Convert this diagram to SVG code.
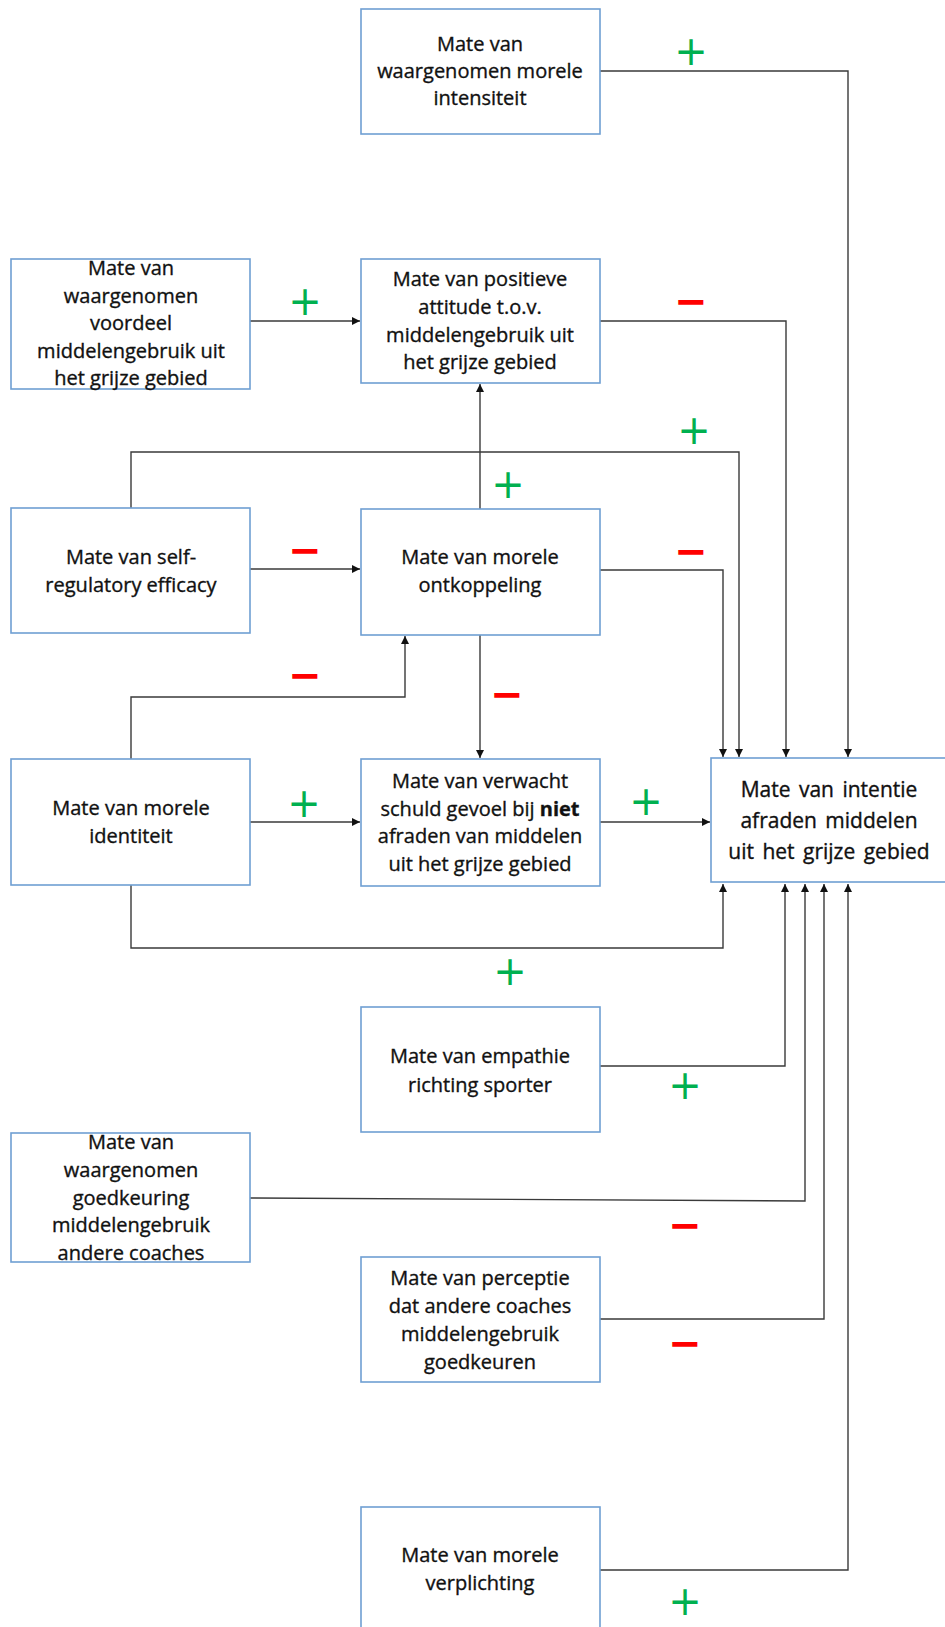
<svg xmlns="http://www.w3.org/2000/svg" width="945" height="1627" viewBox="0 0 945 1627">
<style>
.box{fill:#fff;stroke:#6f9fd3;stroke-width:1.6}
.t{font-family:"Open Sans","Liberation Sans",sans-serif;font-size:20px;fill:#111;stroke:#111;stroke-width:0.35;text-anchor:middle}
.tt{font-family:"Open Sans","Liberation Sans",sans-serif;font-size:21px;fill:#111;stroke:#111;stroke-width:0.35;text-anchor:middle;word-spacing:3px}
.c{fill:none;stroke:#3a3a3a;stroke-width:1.4}
.p{font-family:"DejaVu Sans",sans-serif;font-size:40px;fill:#00b050;text-anchor:middle}
.m{font-family:"DejaVu Sans",sans-serif;font-size:40px;fill:#ff0000;text-anchor:middle;font-weight:bold}
</style>
<defs>
<marker id="ah" viewBox="0 0 10 10" refX="10" refY="5" markerWidth="10" markerHeight="8" markerUnits="userSpaceOnUse" orient="auto">
<path d="M0,0 L10,5 L0,10 z" fill="#111"/>
</marker>
</defs>
<rect width="945" height="1627" fill="#fff"/>
<g id="connectors">
<path class="c" d="M600,71 H848 V757" marker-end="url(#ah)"/>
<path class="c" d="M250,321 H360" marker-end="url(#ah)"/>
<path class="c" d="M600,321 H786 V757" marker-end="url(#ah)"/>
<path class="c" d="M480,509 V384" marker-end="url(#ah)"/>
<path class="c" d="M131,508 V452 H739 V757" marker-end="url(#ah)"/>
<path class="c" d="M250,569 H360" marker-end="url(#ah)"/>
<path class="c" d="M600,570 H723 V757" marker-end="url(#ah)"/>
<path class="c" d="M480,635 V758" marker-end="url(#ah)"/>
<path class="c" d="M131,759 V697 H405 V636" marker-end="url(#ah)"/>
<path class="c" d="M250,822 H360" marker-end="url(#ah)"/>
<path class="c" d="M600,822 H710" marker-end="url(#ah)"/>
<path class="c" d="M131,885 V948 H723 V884" marker-end="url(#ah)"/>
<path class="c" d="M600,1066 H785 V884" marker-end="url(#ah)"/>
<path class="c" d="M250,1198 L805,1201 V884" marker-end="url(#ah)"/>
<path class="c" d="M600,1319 H824 V884" marker-end="url(#ah)"/>
<path class="c" d="M600,1570 H848 V884" marker-end="url(#ah)"/>
</g>
<g id="signs">
<text class="p" x="691" y="65">+</text>
<text class="p" x="305" y="315">+</text>
<text class="m" x="691" y="315">−</text>
<text class="p" x="694" y="444">+</text>
<text class="p" x="508" y="498">+</text>
<text class="m" x="305" y="564">−</text>
<text class="m" x="691" y="565">−</text>
<text class="m" x="305" y="689">−</text>
<text class="m" x="507" y="708">−</text>
<text class="p" x="304" y="817">+</text>
<text class="p" x="646" y="815">+</text>
<text class="p" x="510" y="985">+</text>
<text class="p" x="685" y="1099">+</text>
<text class="m" x="685" y="1239">−</text>
<text class="m" x="685" y="1357">−</text>
<text class="p" x="685" y="1615">+</text>
</g>
<g id="n-morele-intensiteit">
<rect class="box" x="361" y="9" width="239" height="125"/>
<text class="t" x="480" y="51">Mate van</text>
<text class="t" x="480" y="78">waargenomen morele</text>
<text class="t" x="480" y="105">intensiteit</text>
</g>
<g id="n-voordeel">
<rect class="box" x="11" y="259" width="239" height="130"/>
<text class="t" x="131" y="275">Mate van</text>
<text class="t" x="131" y="303">waargenomen</text>
<text class="t" x="131" y="330">voordeel</text>
<text class="t" x="131" y="358">middelengebruik uit</text>
<text class="t" x="131" y="385">het grijze gebied</text>
</g>
<g id="n-attitude">
<rect class="box" x="361" y="259" width="239" height="124"/>
<text class="t" x="480" y="286">Mate van positieve</text>
<text class="t" x="480" y="314">attitude t.o.v.</text>
<text class="t" x="480" y="342">middelengebruik uit</text>
<text class="t" x="480" y="369">het grijze gebied</text>
</g>
<g id="n-self-regulatory">
<rect class="box" x="11" y="508" width="239" height="125"/>
<text class="t" x="131" y="564">Mate van self-</text>
<text class="t" x="131" y="592">regulatory efficacy</text>
</g>
<g id="n-ontkoppeling">
<rect class="box" x="361" y="509" width="239" height="126"/>
<text class="t" x="480" y="564">Mate van morele</text>
<text class="t" x="480" y="592">ontkoppeling</text>
</g>
<g id="n-identiteit">
<rect class="box" x="11" y="759" width="239" height="126"/>
<text class="t" x="131" y="815">Mate van morele</text>
<text class="t" x="131" y="843">identiteit</text>
</g>
<g id="n-schuldgevoel">
<rect class="box" x="361" y="759" width="239" height="127"/>
<text class="t" x="480" y="788">Mate van verwacht</text>
<text class="t" x="480" y="816">schuld gevoel bij <tspan font-weight="bold">niet</tspan></text>
<text class="t" x="480" y="843">afraden van middelen</text>
<text class="t" x="480" y="871">uit het grijze gebied</text>
</g>
<g id="n-intentie">
<rect class="box" x="711" y="758" width="245" height="124"/>
<text class="tt" x="829" y="797">Mate van intentie</text>
<text class="tt" x="829" y="828">afraden middelen</text>
<text class="tt" x="829" y="859">uit het grijze gebied</text>
</g>
<g id="n-empathie">
<rect class="box" x="361" y="1007" width="239" height="125"/>
<text class="t" x="480" y="1063">Mate van empathie</text>
<text class="t" x="480" y="1092">richting sporter</text>
</g>
<g id="n-goedkeuring">
<rect class="box" x="11" y="1133" width="239" height="129"/>
<text class="t" x="131" y="1149">Mate van</text>
<text class="t" x="131" y="1177">waargenomen</text>
<text class="t" x="131" y="1205">goedkeuring</text>
<text class="t" x="131" y="1232">middelengebruik</text>
<text class="t" x="131" y="1260">andere coaches</text>
</g>
<g id="n-perceptie">
<rect class="box" x="361" y="1257" width="239" height="125"/>
<text class="t" x="480" y="1285">Mate van perceptie</text>
<text class="t" x="480" y="1313">dat andere coaches</text>
<text class="t" x="480" y="1341">middelengebruik</text>
<text class="t" x="480" y="1369">goedkeuren</text>
</g>
<g id="n-verplichting">
<rect class="box" x="361" y="1507" width="239" height="130"/>
<text class="t" x="480" y="1562">Mate van morele</text>
<text class="t" x="480" y="1590">verplichting</text>
</g>
</svg>
